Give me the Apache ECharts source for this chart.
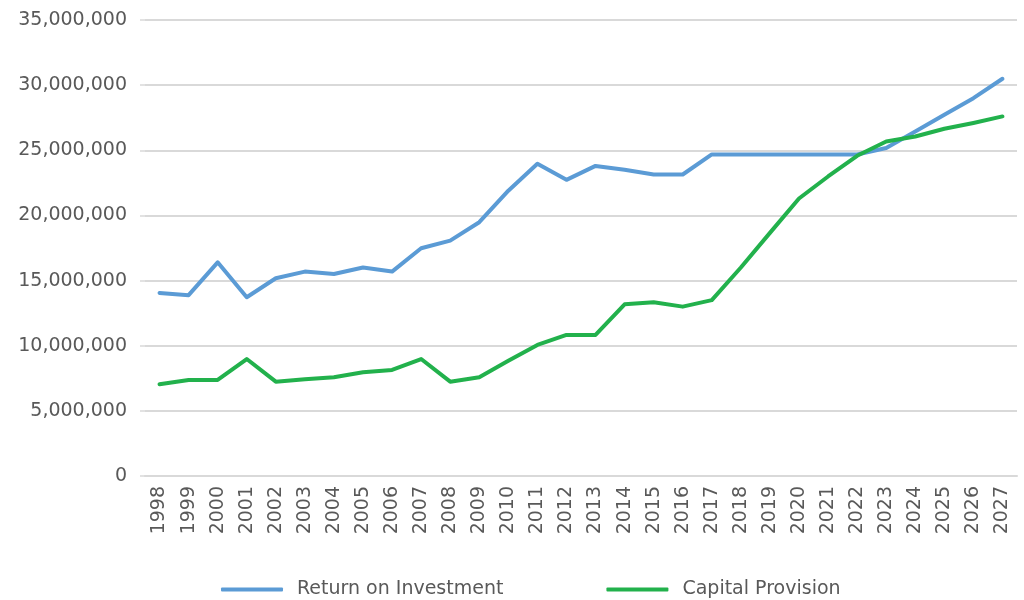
<!DOCTYPE html>
<html>
<head>
<meta charset="utf-8">
<script src="https://cdn.jsdelivr.net/npm/echarts@6/dist/echarts.min.js"></script>
<style>
  html, body { margin: 0; padding: 0; background: #fff; }
  #chart { width: 1024px; height: 600px; }
</style>
</head>
<body>
<div id="chart"></div>
<script>
var years = ['1998','1999','2000','2001','2002','2003','2004','2005','2006','2007',
  '2008','2009','2010','2011','2012','2013','2014','2015','2016','2017',
  '2018','2019','2020','2021','2022','2023','2024','2025','2026','2027'];

var roi = [14050000,13880000,16400000,13720000,15180000,15690000,15500000,16000000,15690000,17480000,
  18070000,19480000,21900000,23960000,22730000,23800000,23500000,23140000,23140000,24680000,
  24680000,24680000,24680000,24680000,24680000,25170000,26450000,27730000,29000000,30490000];

var capital = [7040000,7370000,7370000,8980000,7240000,7420000,7580000,7960000,8140000,8980000,
  7240000,7580000,8850000,10060000,10830000,10830000,13180000,13340000,13000000,13500000,
  16000000,18660000,21300000,22990000,24580000,25680000,26060000,26650000,27100000,27600000];

var seriesNames = ['Return on Investment', 'Capital Provision'];

(function(){
  var c = echarts.init(document.getElementById('chart'));
  var txt = '#595959';
  var grid = '#d9d9d9';
  var font = 'DejaVu Sans';

  c.setOption({
    animation: false,
    grid: { left: 145, right: 7, top: 20, bottom: 124 },
    legend: {
      top: 575, left: 216,
      itemWidth: 62, itemHeight: 4, itemGap: 103,
      icon: 'roundRect',
      textStyle: { color: txt, fontFamily: font, fontSize: 19, padding: [0, 0, 0, 9] },
      data: seriesNames
    },
    xAxis: {
      type: 'category',
      data: years,
      boundaryGap: true,
      axisLine: { lineStyle: { color: grid, width: 2 } },
      axisTick: { show: false },
      axisLabel: { color: txt, fontFamily: font, fontSize: 19, rotate: 90, margin: 10, interval: 0 }
    },
    yAxis: {
      type: 'value',
      min: 0, max: 35000000, interval: 5000000,
      axisLine: { show: false },
      axisTick: { show: true, length: 5, lineStyle: { color: grid, width: 1.5 } },
      splitLine: { lineStyle: { color: grid, width: 2 } },
      axisLabel: {
        color: txt, fontFamily: font, fontSize: 19, margin: 18,
        formatter: function(v){ return v.toLocaleString('en-US'); }
      }
    },
    series: [
      { name: seriesNames[0], type: 'line', data: roi, showSymbol: false, symbol: 'none',
        itemStyle: { color: '#5b9bd5' },
        lineStyle: { color: '#5b9bd5', width: 4, cap: 'round', join: 'round' } },
      { name: seriesNames[1], type: 'line', data: capital, showSymbol: false, symbol: 'none',
        itemStyle: { color: '#22b14c' },
        lineStyle: { color: '#22b14c', width: 4, cap: 'round', join: 'round' } }
    ]
  });

  window.addEventListener('resize', function(){ c.resize(); });
})();
</script>
</body>
</html>
